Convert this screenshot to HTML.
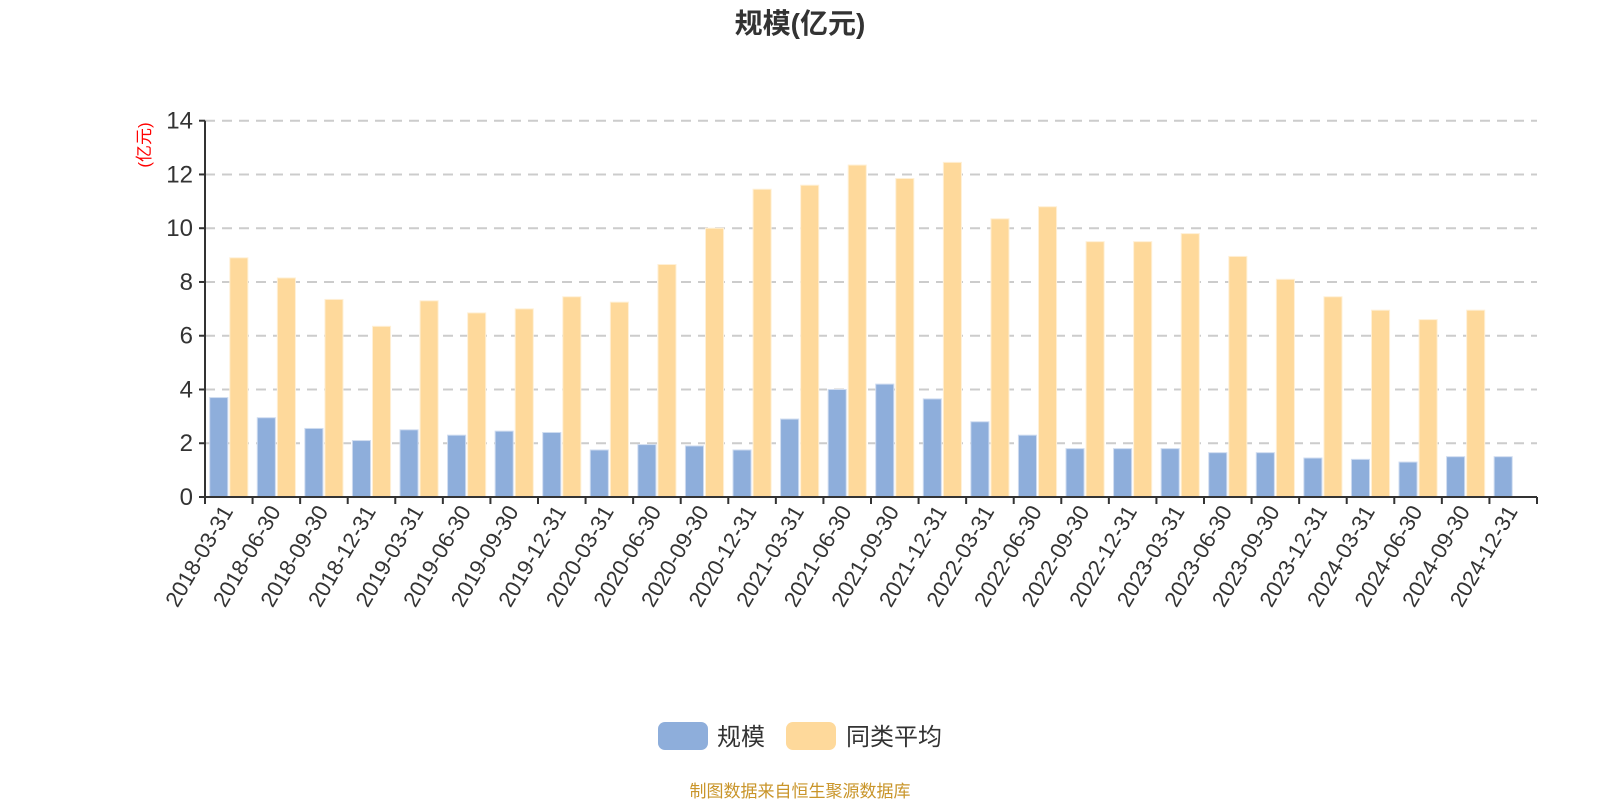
<!DOCTYPE html>
<html><head><meta charset="utf-8"><style>
html,body{margin:0;padding:0;background:#fff;}
svg text{font-family:"Liberation Sans","Noto Sans CJK SC",sans-serif;}
</style></head><body>
<svg id="chart" width="1600" height="800" xmlns="http://www.w3.org/2000/svg">
<text x="800" y="33" text-anchor="middle" font-size="28" font-weight="bold" fill="#333">规模(亿元)</text>
<text transform="translate(150,145) rotate(-90)" text-anchor="middle" font-size="17" fill="#ff0000">(亿元)</text>
<g id="grid"></g>
<g id="bars"></g>
<g id="axes"></g>
<g>
<rect x="658" y="722" width="50" height="28" rx="7" fill="#8eaedb"/>
<text x="717" y="745" font-size="24" fill="#333">规模</text>
<rect x="786" y="722" width="50" height="28" rx="7" fill="#fed99b"/>
<text x="846" y="745" font-size="24" fill="#333">同类平均</text>
</g>
<text x="800" y="797" text-anchor="middle" font-size="17" fill="#c9952a">制图数据来自恒生聚源数据库</text>
</svg>
<script>
const categories=["2018-03-31","2018-06-30","2018-09-30","2018-12-31","2019-03-31","2019-06-30","2019-09-30","2019-12-31","2020-03-31","2020-06-30","2020-09-30","2020-12-31","2021-03-31","2021-06-30","2021-09-30","2021-12-31","2022-03-31","2022-06-30","2022-09-30","2022-12-31","2023-03-31","2023-06-30","2023-09-30","2023-12-31","2024-03-31","2024-06-30","2024-09-30","2024-12-31"];
const scaleValues=[3.7,2.95,2.55,2.1,2.5,2.3,2.45,2.4,1.75,1.95,1.9,1.75,2.9,4.0,4.2,3.65,2.8,2.3,1.8,1.8,1.8,1.65,1.65,1.45,1.4,1.3,1.5,1.5];
const avgValues=[8.9,8.15,7.35,6.35,7.3,6.85,7.0,7.45,7.25,8.65,10.0,11.45,11.6,12.35,11.85,12.45,10.35,10.8,9.5,9.5,9.8,8.95,8.1,7.45,6.95,6.6,6.95,null];
const yTicks=[0,2,4,6,8,10,12,14];
const NS="http://www.w3.org/2000/svg";
const X0=205,X1=1537,Y0=497,Y1=120.7,YMAX=14;
const band=(X1-X0)/categories.length;
function y(v){return Y0-(Y0-Y1)*v/YMAX;}
function xc(i){return X0+band*(i+0.5);}
function mk(tag,attrs,parent){const e=document.createElementNS(NS,tag);for(const k in attrs)e.setAttribute(k,attrs[k]);parent.appendChild(e);return e;}
const grid=document.getElementById('grid'),bars=document.getElementById('bars'),axes=document.getElementById('axes');
yTicks.forEach(t=>{
  if(t>0){const l=mk('line',{x1:X0,x2:X1,y1:y(t),y2:y(t),stroke:'#ccc','stroke-width':2,'stroke-dasharray':'10,7'},grid);
  
  }
  const tk=mk('line',{x1:X0-6,x2:X0,y1:y(t),y2:y(t),stroke:'#333','stroke-width':2},axes);
  
  
  const tx=mk('text',{x:X0-12,y:y(t)+8,'text-anchor':'end','font-size':24,fill:'#333'},axes);
  tx.textContent=t;
  
  
});
const bw=band*0.38;
categories.forEach((c,i)=>{
  const cx=xc(i);
  const v1=scaleValues[i];
  if(v1!=null){const r=mk('rect',{x:cx-1-bw,y:y(v1),width:bw,height:Y0-y(v1),fill:'#8eaedb',stroke:'#cfdcf0','stroke-width':1},bars);
  
  }
  const v2=avgValues[i];
  if(v2!=null){const r=mk('rect',{x:cx+1,y:y(v2),width:bw,height:Y0-y(v2),fill:'#fed99b',stroke:'#fff0d6','stroke-width':1},bars);
  
  }
  const lbl=mk('text',{transform:`translate(${cx+5},${Y0+14}) rotate(-60)`,'text-anchor':'end','font-size':22,fill:'#333'},axes);
  lbl.textContent=c;
  
  
});
for(let i=0;i<=categories.length;i++){
  const x=X0+band*i;
  const t=mk('line',{x1:x,x2:x,y1:Y0,y2:Y0+7,stroke:'#333','stroke-width':2},axes);
  
  
}
const ya=mk('line',{x1:X0,x2:X0,y1:Y1,y2:Y0,stroke:'#333','stroke-width':2},axes);


const xa=mk('line',{x1:X0,x2:X1,y1:Y0,y2:Y0,stroke:'#333','stroke-width':2},axes);


</script>
</body></html>
